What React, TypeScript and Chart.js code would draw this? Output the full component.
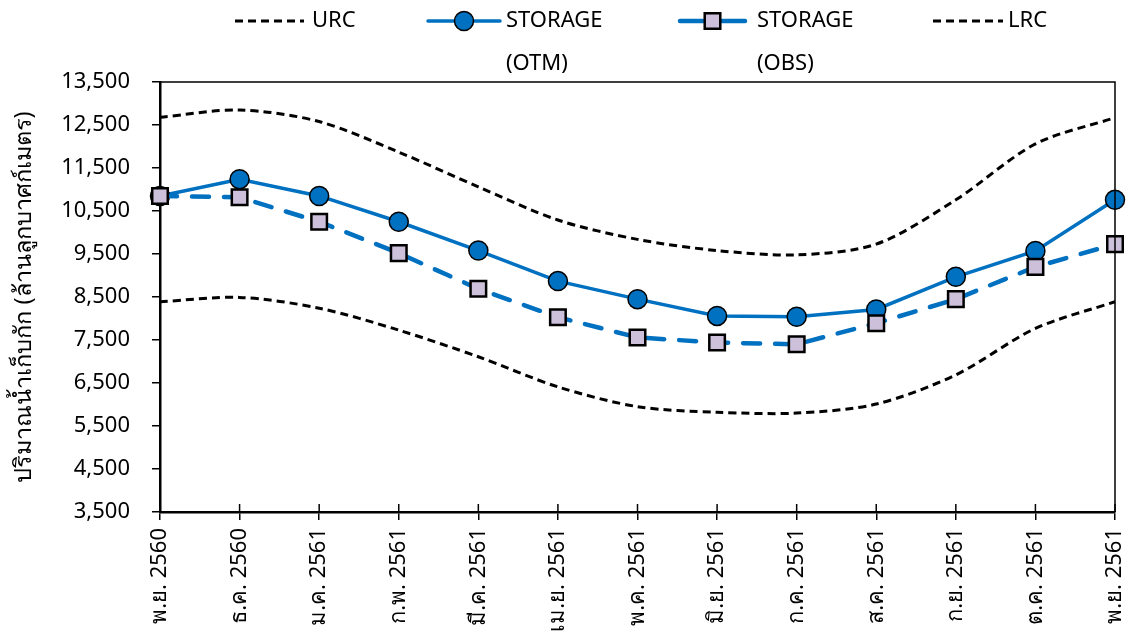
import React, { useEffect, useRef } from 'react';
import { Chart, registerables } from 'chart.js';

Chart.register(...registerables);

const months = [
  'พ.ย. 2560', 'ธ.ค. 2560', 'ม.ค. 2561', 'ก.พ. 2561', 'มี.ค. 2561', 'เม.ย. 2561', 'พ.ค. 2561',
  'มิ.ย. 2561', 'ก.ค. 2561', 'ส.ค. 2561', 'ก.ย. 2561', 'ต.ค. 2561', 'พ.ย. 2561',
];
const urc = [12680, 12850, 12580, 11870, 11060, 10290, 9840, 9580, 9480, 9730, 10760, 12060, 12670];
const storageOtm = [10850, 11240, 10850, 10250, 9580, 8870, 8450, 8060, 8040, 8210, 8970, 9570, 10760];
const storageObs = [10850, 10820, 10250, 9520, 8690, 8030, 7560, 7440, 7400, 7890, 8450, 9200, 9730];
const lrc = [8390, 8490, 8240, 7730, 7110, 6410, 5950, 5820, 5800, 6010, 6690, 7770, 8390];
const yMin = 3500;
const yMax = 13500;
const yStep = 1000;
const yTitle = 'ปริมาณน้ำเก็บกัก (ล้านลูกบาศก์เมตร)';
const legendLabels = [['URC'], ['STORAGE', '(OTM)'], ['STORAGE', '(OBS)'], ['LRC']];

const FONT = '"Noto Sans", "Liberation Sans", sans-serif';
const BLUE = '#0070C0';

const framePlugin = {
  id: 'frame',
  afterDraw(chart: any) {
    const { ctx, chartArea } = chart;
    const xs = chart.scales.x;
    ctx.save();
    ctx.strokeStyle = '#000';
    ctx.lineWidth = 1.5;
    ctx.beginPath();
    ctx.moveTo(chartArea.left, chartArea.top);
    ctx.lineTo(chartArea.right, chartArea.top);
    ctx.lineTo(chartArea.right, chartArea.bottom);
    ctx.stroke();
    xs.ticks.forEach((_t: any, i: number) => {
      const x = xs.getPixelForTick(i);
      ctx.beginPath();
      ctx.moveTo(x, chartArea.bottom - 8);
      ctx.lineTo(x, chartArea.bottom);
      ctx.stroke();
    });
    ctx.restore();
  },
};

// legend slots: [lineStart, lineEnd, textX]
const legendSlots = [
  [235, 304, 312],
  [428, 500, 506],
  [680, 745, 757],
  [933, 1003, 1008],
];
const legendDatasetIndex = [0, 1, 2, 3];

const legendPlugin = {
  id: 'customLegend',
  afterDraw(chart: any) {
    const { ctx } = chart;
    ctx.save();
    legendLabels.forEach((lines, k) => {
      const ds = chart.data.datasets[legendDatasetIndex[k]];
      const [x0, x1, tx] = legendSlots[k];
      const y = 21;
      ctx.strokeStyle = ds.borderColor;
      ctx.lineWidth = ds.borderWidth;
      ctx.lineCap = ds.borderCapStyle || 'butt';
      // short legend sample: marker series drawn as a continuous stroke
      ctx.setLineDash(ds.pointRadius > 0 ? [] : ds.borderDash || []);
      ctx.beginPath();
      ctx.moveTo(x0, y);
      ctx.lineTo(x1, y);
      ctx.stroke();
      ctx.setLineDash([]);
      ctx.lineCap = 'butt';
      if (ds.pointRadius > 0) {
        const mx = (x0 + x1) / 2;
        ctx.fillStyle = ds.pointBackgroundColor;
        ctx.strokeStyle = ds.pointBorderColor;
        ctx.lineWidth = ds.pointBorderWidth;
        ctx.beginPath();
        if (ds.pointStyle === 'rect') {
          const s = ds.pointRadius * Math.SQRT1_2;
          ctx.rect(mx - s, y - s, 2 * s, 2 * s);
        } else {
          ctx.arc(mx, y, ds.pointRadius, 0, Math.PI * 2);
        }
        ctx.fill();
        ctx.stroke();
      }
      ctx.fillStyle = '#000';
      ctx.font = `22px ${FONT}`;
      ctx.textBaseline = 'middle';
      ctx.textAlign = 'left';
      ctx.fillText(lines[0], tx, y);
      if (lines[1]) {
        ctx.fillText(lines[1], tx, 64);
      }
    });
    ctx.restore();
  },
};

export default function App() {
  const ref = useRef<HTMLCanvasElement>(null);
  useEffect(() => {
    if (!ref.current) return;
    const chart = new Chart(ref.current, {
      type: 'line',
      data: {
        labels: months,
        datasets: [
          {
            label: 'URC',
            data: urc,
            borderColor: '#000',
            borderWidth: 3,
            borderDash: [8, 5],
            pointRadius: 0,
            tension: 0.3,
            order: 2,
          },
          {
            label: 'STORAGE (OTM)',
            data: storageOtm,
            borderColor: BLUE,
            borderWidth: 3.5,
            borderCapStyle: 'round',
            pointRadius: 9.5,
            pointStyle: 'circle',
            pointBackgroundColor: BLUE,
            pointBorderColor: '#000',
            pointBorderWidth: 1.5,
            tension: 0,
            order: 1,
          },
          {
            label: 'STORAGE (OBS)',
            data: storageObs,
            borderColor: BLUE,
            borderWidth: 4.5,
            borderDash: [17, 15],
            borderCapStyle: 'round',
            pointRadius: 11,
            pointStyle: 'rect',
            pointBackgroundColor: '#CCC0DA',
            pointBorderColor: '#000',
            pointBorderWidth: 2.5,
            tension: 0,
            order: 0,
          },
          {
            label: 'LRC',
            data: lrc,
            borderColor: '#000',
            borderWidth: 3,
            borderDash: [8, 5],
            pointRadius: 0,
            tension: 0.3,
            order: 2,
          },
        ] as any,
      },
      options: {
        responsive: false,
        animation: false,
        layout: { padding: { top: 82, right: 17, left: 0, bottom: 0 } },
        plugins: {
          legend: { display: false },
          tooltip: { enabled: false },
        },
        scales: {
          x: {
            type: 'category',
            offset: false,
            grid: {
              display: true,
              drawOnChartArea: false,
              drawTicks: true,
              tickLength: 8,
              color: '#000',
              lineWidth: 1.5,
            },
            border: { display: true, color: '#000', width: 2.5 },
            ticks: {
              minRotation: 90,
              maxRotation: 90,
              autoSkip: false,
              padding: 8,
              color: '#000',
              font: { family: FONT, size: 22 },
            },
            afterFit(scale: any) {
              scale.height = 130;
              scale.paddingLeft = 0;
              scale.paddingRight = 0;
            },
          },
          y: {
            min: yMin,
            max: yMax,
            grid: {
              display: true,
              drawOnChartArea: false,
              drawTicks: true,
              tickLength: 8,
              color: '#000',
              lineWidth: 1.5,
            },
            border: { display: true, color: '#000', width: 2.5 },
            ticks: {
              stepSize: yStep,
              padding: 22,
              color: '#000',
              font: { family: FONT, size: 22 },
              callback: (v: any) => Number(v).toLocaleString('en-US'),
            },
            title: {
              display: true,
              text: yTitle,
              color: '#000',
              font: { family: FONT, size: 23.5 },
              padding: { top: 10, bottom: 0 },
            },
            afterFit(scale: any) {
              scale.width = 160;
              scale.paddingTop = 0;
              scale.paddingBottom = 0;
            },
          },
        },
      },
      plugins: [framePlugin, legendPlugin],
    });
    return () => chart.destroy();
  }, []);
  return (
    <div style={{ position: 'fixed', left: 0, top: 0, width: 1132, height: 642, background: '#fff' }}>
      <canvas ref={ref} width={1132} height={642} />
    </div>
  );
}
